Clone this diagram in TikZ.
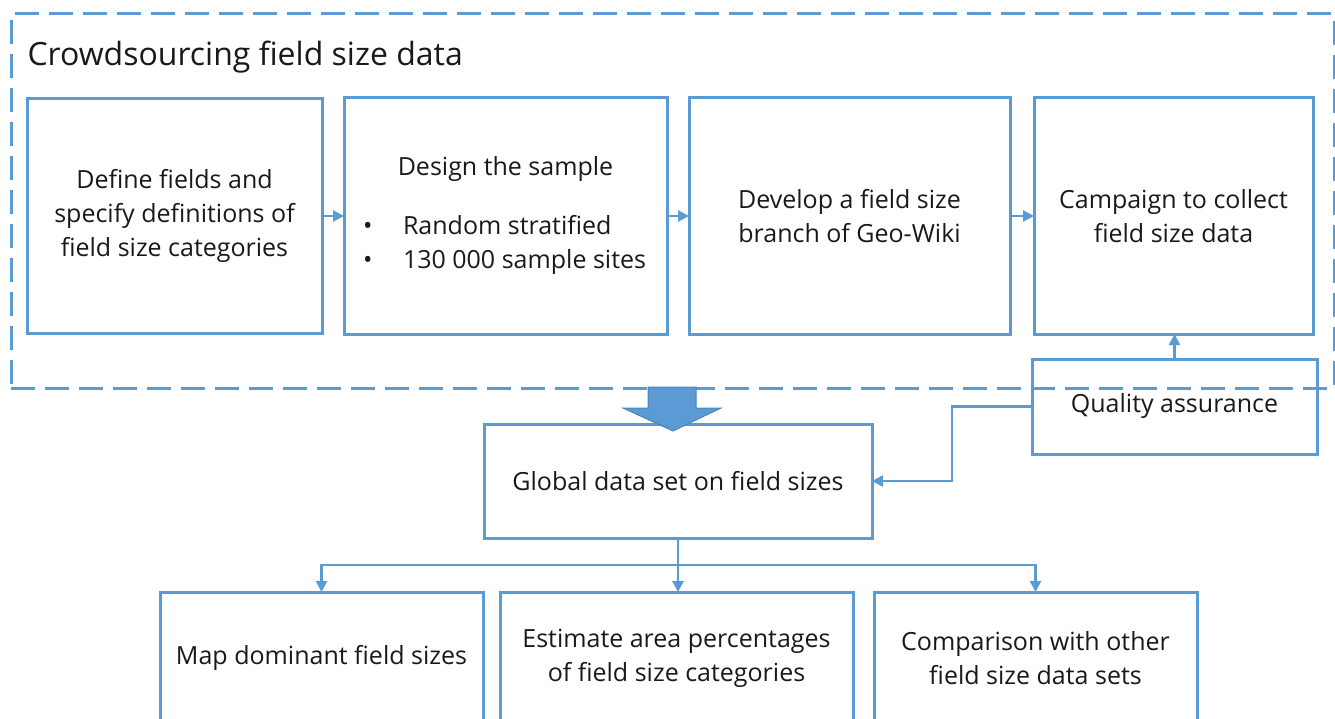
\documentclass[tikz,border=0pt]{standalone}
\usepackage{fontspec}
\setmainfont{Open Sans}
\usepackage{tikz}
\usetikzlibrary{arrows.meta, positioning}
\definecolor{boxblue}{HTML}{5B9BD5}

\begin{document}
\begin{tikzpicture}[
            x = 1pt, y = -1pt, % one unit is one pixel of the layout
            > = {Triangle[length=11pt, width=11pt]}, % arrow head style
            font = \fontsize{25}{34}\selectfont
        ]

        \tikzstyle{box}=[
            draw = boxblue,
            line width = 3pt,
            align = center,
            text = black!90,
            inner sep = 0pt,
            outer sep = 0pt
        ]
        \tikzstyle{link}=[
            draw = boxblue,
            line width = 2.6pt,
            ->
        ]

        \useasboundingbox (0,0) rectangle (1335,719);

        % top row, inside the crowdsourcing frame
        \node[box, minimum width=295pt, minimum height=234pt] (A) at (174.5,216) {Define fields and\\specify definitions of\\field size categories};
        \node[box, minimum width=323pt, minimum height=236pt] (B) [right=22pt of A] {Design the sample\\[25pt]
            \makebox[285pt][l]{\makebox[40pt][l]{\textbullet}Random stratified}\\
            \makebox[285pt][l]{\makebox[40pt][l]{\textbullet}130 000 sample sites}};
        \node[box, minimum width=321pt, minimum height=236pt] (C) [right=22pt of B] {Develop a field size\\branch of Geo-Wiki};
        \node[box, minimum width=279pt, minimum height=236pt] (D) [right=24pt of C] {Campaign to collect\\field size data};

        \node[box, minimum width=285pt, minimum height=95pt] (Q) at (1174.5,406.5) {Quality assurance};

        % dashed frame and its title
        \node[draw=boxblue, line width=3pt, dash pattern=on 24pt off 10pt, minimum width=1323pt, minimum height=374pt, inner sep=0pt] (W) at (672.5,201) {};
        \node[anchor=west, text=black!90, font=\fontsize{32}{38}\selectfont] (T) at (24,57) {Crowdsourcing field size data};

        \node[box, minimum width=388pt, minimum height=114pt] (G) at (678,481) {Global data set on field sizes};

        % bottom row
        \node[box, minimum width=323pt, minimum height=132pt] (E) at (321.5,658) {Map dominant field sizes};
        \node[box, minimum width=353pt, minimum height=132pt] (F) [right=17pt of E] {Estimate area percentages\\of field size categories};
        \node[box, minimum width=323pt, minimum height=132pt] (H) [right=21pt of F] {Comparison with other\\field size data sets};

        \draw[link] (A) -- (B);
        \draw[link] (B) -- (C);
        \draw[link] (C) -- (D);
        \draw[link] (Q.north) -- (Q.north |- D.south);
        \draw[link] (Q.west) -- ++(-80,0) |- (G.east);

        \draw[link] (G.south) -- (G.south |- F.north);
        \draw[link] (G.south) -- ++(0,27) -| (E.north);
        \draw[link] (G.south) -- ++(0,27) -| (H.north);

        % block arrow from the frame down to the data set
        \draw[fill=boxblue, draw=boxblue!85!black, line width=1pt]
            (648,387) -- (696,387) -- (696,408) -- (721,408) -- (673,431) -- (623,408) -- (648,408) -- cycle;

        %\draw[red] (0,0) grid[step=100] (1335,719);
    \end{tikzpicture}
\end{document}
